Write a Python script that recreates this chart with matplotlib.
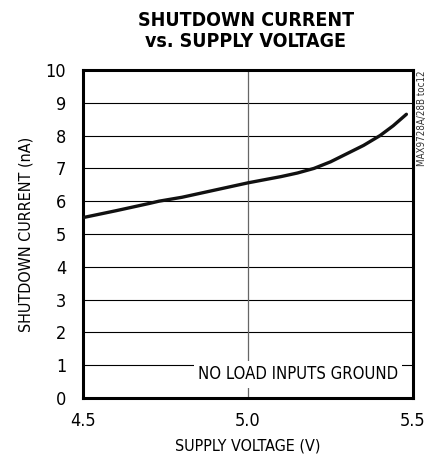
import matplotlib
matplotlib.use("Agg")
import matplotlib.pyplot as plt

voltage = [4.50, 4.60, 4.70, 4.73, 4.80, 4.90, 5.00, 5.10, 5.15, 5.20, 5.25, 5.30, 5.35, 5.40, 5.44, 5.48]
current = [5.50, 5.71, 5.93, 6.00, 6.12, 6.34, 6.56, 6.75, 6.86, 7.00, 7.20, 7.45, 7.70, 8.00, 8.30, 8.65]

yticks = list(range(0, 11))
xticks = [4.5, 5.0, 5.5]
xticklabels = ["4.5", "5.0", "5.5"]

plt.rcParams['font.family'] = ['DejaVu Sans']
plt.rcParams['font.stretch'] = 'condensed'

fig = plt.figure(figsize=(4.37, 4.58), dpi=100)
ax = fig.add_axes([83 / 437, 60 / 458, 330 / 437, 328 / 458])

ax.set_xlim(4.5, 5.5)
ax.set_ylim(0, 10)
for y in yticks[1:-1]:
    ax.axhline(y, color='black', lw=0.8, zorder=1)
ax.axvline(5.0, color='#666666', lw=0.9, zorder=1)

ax.plot(voltage, current, color='#111111', lw=2.4, solid_capstyle='round', zorder=3)

ax.set_xticks(xticks)
ax.set_xticklabels(xticklabels)
ax.set_yticks(yticks)
ax.tick_params(axis='y', length=0, labelsize=13, pad=12)
ax.tick_params(axis='x', length=0, labelsize=13, pad=10)
for s in ax.spines.values():
    s.set_linewidth(2.2)

ax.set_xlabel('SUPPLY VOLTAGE (V)', fontsize=11.5, labelpad=6)
ax.set_ylabel('SHUTDOWN CURRENT (nA)', fontsize=11.5, labelpad=9)

fig.text(0.562, 0.975, 'SHUTDOWN CURRENT\nvs. SUPPLY VOLTAGE', ha='center', va='top',
         fontsize=14, fontweight='bold', linespacing=1.1)

ax.text(5.455, 0.72, 'NO LOAD INPUTS GROUND', ha='right', va='center', fontsize=12,
        bbox=dict(facecolor='white', edgecolor='none', pad=3), zorder=4)

fig.text(422 / 437, 1 - 71 / 458, 'MAX9728A/28B toc12', rotation=90, ha='center', va='top',
         fontsize=7, color='#333333')

fig.savefig('out.png', dpi=100)
